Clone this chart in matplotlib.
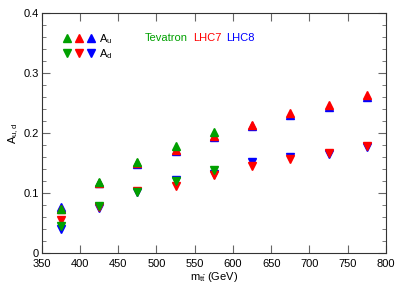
import matplotlib.pyplot as plt
from matplotlib.lines import Line2D
from matplotlib.legend_handler import HandlerTuple
from matplotlib.ticker import MultipleLocator

plt.rcParams['font.family'] = ['Liberation Sans', 'DejaVu Sans']

# bin centres of m_tt (GeV)
mtt_tev = [375, 425, 475, 525, 575]
mtt_lhc = [375, 425, 475, 525, 575, 625, 675, 725, 775]

# A_u
au_tev = [0.073, 0.119, 0.152, 0.178, 0.202]
au_lhc7 = [0.074, 0.117, 0.150, 0.172, 0.195, 0.213, 0.233, 0.247, 0.264]
au_lhc8 = [0.076, 0.117, 0.149, 0.170, 0.193, 0.211, 0.230, 0.243, 0.260]

# A_d
ad_tev = [0.045, 0.078, 0.102, 0.120, 0.138]
ad_lhc7 = [0.055, 0.076, 0.103, 0.112, 0.130, 0.145, 0.156, 0.166, 0.178]
ad_lhc8 = [0.040, 0.075, 0.101, 0.122, 0.131, 0.152, 0.160, 0.165, 0.176]

green = '#00a000'
red = '#ff0000'
blue = '#0000ff'

fig = plt.figure(figsize=(4.0, 2.84), dpi=100)
ax = fig.add_axes([0.104, 0.109, 0.861, 0.845])

ms = 5.2
ax.plot(mtt_lhc, au_lhc8, '^', color=blue, ms=ms, ls='none')
ax.plot(mtt_lhc, ad_lhc8, 'v', color=blue, ms=ms, ls='none')
ax.plot(mtt_lhc, au_lhc7, '^', color=red, ms=ms, ls='none')
ax.plot(mtt_lhc, ad_lhc7, 'v', color=red, ms=ms, ls='none')
ax.plot(mtt_tev, au_tev, '^', color=green, ms=ms, ls='none')
ax.plot(mtt_tev, ad_tev, 'v', color=green, ms=ms, ls='none')

ax.set_xlim(350, 800)
ax.set_ylim(0, 0.4)
ax.xaxis.set_major_locator(MultipleLocator(50))
ax.yaxis.set_major_locator(MultipleLocator(0.1))
ax.yaxis.set_minor_locator(MultipleLocator(0.02))
ax.set_yticks([0, 0.1, 0.2, 0.3, 0.4], ['0', '0.1', '0.2', '0.3', '0.4'])

ax.tick_params(which='both', direction='in', top=True, right=True,
               labelsize=8, color='#666666', pad=2)
ax.tick_params(which='major', length=6)
ax.tick_params(which='minor', length=3, top=False, bottom=False)
ax.tick_params(axis='x', pad=4)
for s in ax.spines.values():
    s.set_color('#333333')

ax.set_xlabel(r'm$_{\mathregular{t\bar{t}}}$ (GeV)', fontsize=8, labelpad=1)
ax.set_ylabel(r'A$_{\mathregular{u,d}}$', fontsize=8, labelpad=2)

hu = tuple(Line2D([], [], marker='^', color=c, ls='none', ms=ms) for c in (green, red, blue))
hd = tuple(Line2D([], [], marker='v', color=c, ls='none', ms=ms) for c in (green, red, blue))
ax.legend([hu, hd], [r'A$_\mathregular{u}$', r'A$_\mathregular{d}$'],
          handler_map={tuple: HandlerTuple(ndivide=None, pad=0.6)},
          loc='upper left', bbox_to_anchor=(0.05, 0.945), frameon=False,
          fontsize=8, handlelength=2.6, handletextpad=0.5, labelspacing=0.15,
          borderpad=0)

ax.text(0.30, 0.885, 'Tevatron', color=green, fontsize=8, transform=ax.transAxes)
ax.text(0.44, 0.885, 'LHC7', color=red, fontsize=8, transform=ax.transAxes)
ax.text(0.535, 0.885, 'LHC8', color=blue, fontsize=8, transform=ax.transAxes)

fig.savefig('out.png', dpi=100)
